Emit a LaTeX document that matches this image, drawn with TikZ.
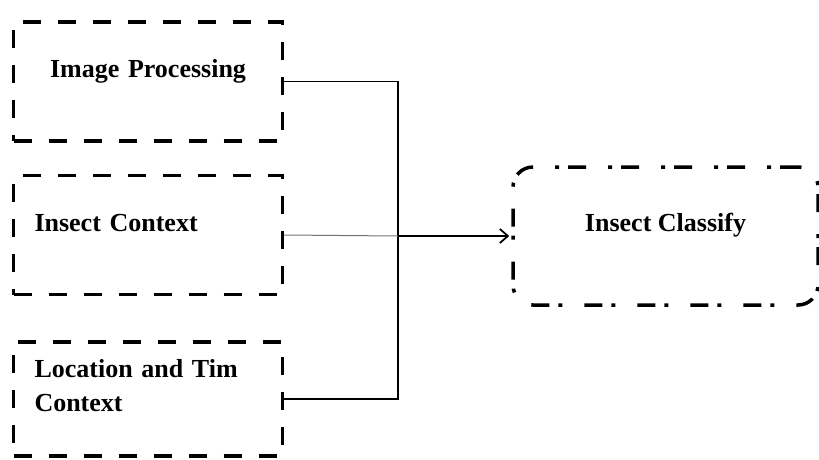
\documentclass[tikz,border=0pt]{standalone}
\usepackage{fontspec}
\setmainfont{Liberation Serif}
\usetikzlibrary{arrows.meta}

\tikzset{
  boxfont/.style={font=\fontsize{26}{34}\selectfont\bfseries},
  inbox/.style={draw, boxfont, line width=3.5pt, dash pattern=on 18pt off 17pt,
    text width=227pt, inner xsep=21pt, minimum height=119pt,
    text height=17pt, text depth=25pt},
  outbox/.style={draw, boxfont, line width=3.5pt, rounded corners=20pt,
    dash pattern=on 18pt off 9pt on 4pt off 22pt,
    minimum width=305pt, minimum height=138pt, text height=17pt, text depth=26pt},
  link/.style={line width=1.2pt}
}

\begin{document}
\begin{tikzpicture}[x=1pt,y=-1pt,>={Straight Barb[length=8pt,width=14pt]}]
            \useasboundingbox (0,0) rectangle (819,459);
            % inputs
            \node[inbox, align=center] (imgproc) at (148,81.5) {Image Processing};
            \node[inbox, align=left] (context) at (148,235) {Insect Context};
            \node[inbox, align=left, minimum height=114pt, text depth=60pt]
                (loctime) at (148,399) {Location and Tim\\Context};
            % output
            \node[outbox] (classify) at (665.5,236) {Insect Classify};
            \coordinate (join) at (398,236);
            \draw[link] (imgproc.east) -| (join);
            \draw[link] (loctime.east) -| (join);
            \draw[line width=1pt, black!55] (context.east) -- (join);
            \draw[->, line width=1.8pt, shorten >=2pt] (join) -- (classify.west);
      \end{tikzpicture}
\end{document}
